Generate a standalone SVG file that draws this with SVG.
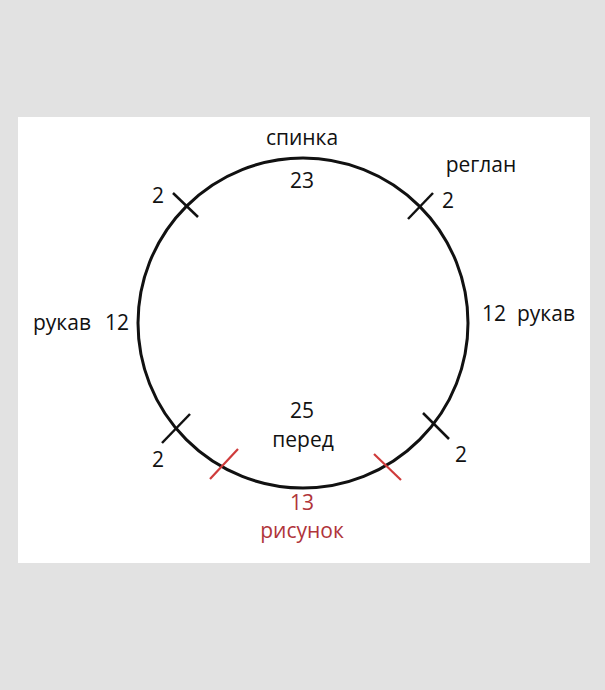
<svg xmlns="http://www.w3.org/2000/svg" width="605" height="690" viewBox="0 0 605 690">
  <style>
    .t { font-family: "Open Sans", "Liberation Sans", sans-serif; font-size: 21px; fill: #111111; }
    .r { fill: #b0343a; }
    .tick { stroke: #111; stroke-width: 2.5; stroke-linecap: butt; }
    .tick-red { stroke: #cf3b3b; stroke-width: 2.2; }
  </style>
  <rect x="0" y="0" width="605" height="690" fill="#e2e2e2"/>
  <rect x="18" y="117" width="572" height="446" fill="#ffffff"/>

  <g id="circle">
    <circle cx="303" cy="323" r="165" fill="none" stroke="#111" stroke-width="3"/>
  </g>

  <g id="connectors">
    <line class="tick" x1="173" y1="193" x2="198" y2="217"/>
    <line class="tick" x1="408" y1="219" x2="433" y2="193"/>
    <line class="tick" x1="162" y1="443" x2="190" y2="414"/>
    <line class="tick" x1="423" y1="413" x2="449" y2="439"/>
    <line class="tick tick-red" x1="210" y1="479" x2="238" y2="449"/>
    <line class="tick tick-red" x1="374" y1="454" x2="401" y2="480"/>
  </g>

  <g id="back">
    <text class="t" x="302" y="145" text-anchor="middle">спинка</text>
    <text class="t" x="302" y="188" text-anchor="middle">23</text>
  </g>
  <g id="raglan">
    <text class="t" x="481" y="172" text-anchor="middle">реглан</text>
  </g>
  <g id="raglan-marks">
    <text class="t" x="158" y="203" text-anchor="middle">2</text>
    <text class="t" x="448" y="208" text-anchor="middle">2</text>
    <text class="t" x="158" y="467" text-anchor="middle">2</text>
    <text class="t" x="461" y="462" text-anchor="middle">2</text>
  </g>
  <g id="sleeve-left">
    <text class="t" y="330"><tspan x="33">рукав</tspan><tspan x="105">12</tspan></text>
  </g>
  <g id="sleeve-right">
    <text class="t" y="321"><tspan x="482">12</tspan><tspan x="517">рукав</tspan></text>
  </g>
  <g id="front">
    <text class="t" x="302" y="418" text-anchor="middle">25</text>
    <text class="t" x="303" y="447" text-anchor="middle">перед</text>
  </g>
  <g id="pattern">
    <text class="t r" x="302" y="510" text-anchor="middle">13</text>
    <text class="t r" x="302" y="538" text-anchor="middle">рисунок</text>
  </g>
</svg>
